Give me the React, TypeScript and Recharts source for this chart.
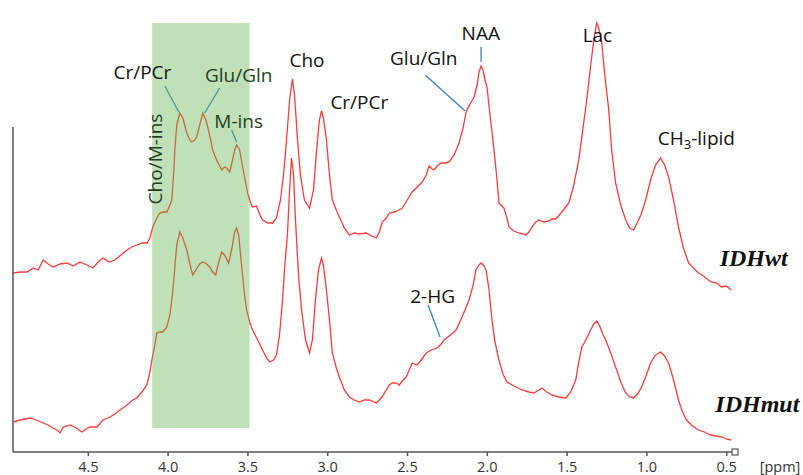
import React from "react";
import {
  LineChart,
  Line,
  XAxis,
  YAxis,
  ReferenceArea,
  ReferenceLine,
  ReferenceDot,
} from "recharts";

// chemical shift ticks (ppm), axis runs high -> low
const ppmTicks = [4.5, 4.0, 3.5, 3.0, 2.5, 2.0, 1.5, 1.0, 0.5];

// IDHwt spectrum (upper trace), signal in a.u.
const wtPpm = [
  4.971, 4.927, 4.883, 4.846, 4.814, 4.783, 4.752, 4.721, 4.677, 4.633, 4.596, 4.552, 4.508, 4.471,
  4.439, 4.408, 4.371, 4.333, 4.296, 4.258, 4.227, 4.196, 4.164, 4.133, 4.114, 4.096, 4.071, 4.052,
  4.027, 4.008, 3.989, 3.977, 3.964, 3.958, 3.946, 3.927, 3.908, 3.883, 3.864, 3.852, 3.833, 3.821,
  3.802, 3.783, 3.764, 3.752, 3.733, 3.721, 3.696, 3.664, 3.646, 3.633, 3.614, 3.596, 3.583, 3.571,
  3.552, 3.533, 3.514, 3.502, 3.483, 3.471, 3.446, 3.427, 3.408, 3.377, 3.346, 3.321, 3.296, 3.277,
  3.258, 3.239, 3.221, 3.208, 3.189, 3.171, 3.146, 3.114, 3.089, 3.077, 3.064, 3.052, 3.039, 3.027,
  3.008, 2.989, 2.971, 2.946, 2.927, 2.896, 2.864, 2.833, 2.802, 2.758, 2.727, 2.696, 2.677, 2.658,
  2.633, 2.614, 2.583, 2.552, 2.533, 2.502, 2.471, 2.439, 2.408, 2.383, 2.364, 2.346, 2.333, 2.314,
  2.289, 2.264, 2.239, 2.208, 2.177, 2.152, 2.133, 2.108, 2.083, 2.064, 2.052, 2.039, 2.027, 2.014,
  2.002, 1.983, 1.958, 1.939, 1.927, 1.896, 1.877, 1.864, 1.833, 1.802, 1.758, 1.739, 1.721, 1.696,
  1.677, 1.646, 1.614, 1.596, 1.571, 1.533, 1.489, 1.458, 1.427, 1.402, 1.377, 1.352, 1.333, 1.314,
  1.302, 1.283, 1.264, 1.239, 1.221, 1.196, 1.164, 1.133, 1.108, 1.083, 1.058, 1.033, 1.008, 0.977,
  0.946, 0.914, 0.889, 0.864, 0.833, 0.802, 0.771, 0.739, 0.708, 0.677, 0.646, 0.614, 0.596, 0.564,
  0.533, 0.502, 0.471,
];
const wtSignal = [
  179, 180, 180, 184, 182, 192, 188, 185, 188, 189, 186, 190, 187, 184,
  190, 194, 190, 192, 197, 202, 205, 207, 209, 209, 214, 225, 234, 239,
  240, 240, 247, 252, 282, 302, 327, 339, 334, 319, 312, 310, 312, 315,
  327, 339, 332, 325, 312, 302, 292, 282, 285, 284, 280, 292, 302, 307,
  302, 285, 269, 259, 249, 245, 246, 238, 232, 229, 229, 234, 252, 277,
  312, 352, 373, 357, 312, 277, 252, 244, 262, 287, 312, 332, 341, 334,
  312, 277, 252, 242, 235, 224, 217, 219, 218, 219, 216, 214, 220, 230,
  234, 239, 240, 242, 244, 252, 260, 265, 270, 277, 286, 283, 282, 286,
  289, 289, 290, 297, 309, 324, 340, 348, 355, 367, 380, 386, 382, 372,
  365, 337, 302, 272, 249, 244, 234, 225, 221, 219, 217, 220, 225, 230,
  232, 230, 231, 233, 233, 240, 249, 267, 292, 322, 352, 387, 412, 429,
  424, 409, 377, 342, 302, 269, 247, 232, 224, 222, 230, 239, 252, 272,
  287, 294, 287, 275, 252, 225, 204, 189, 184, 179, 176, 172, 170, 169,
  165, 166, 162,
];

// IDHmut spectrum (lower trace)
const mutPpm = [
  4.971, 4.927, 4.864, 4.827, 4.783, 4.752, 4.721, 4.696, 4.677, 4.658, 4.633, 4.614, 4.577, 4.539,
  4.514, 4.489, 4.446, 4.408, 4.364, 4.333, 4.302, 4.258, 4.221, 4.196, 4.164, 4.133, 4.114, 4.102,
  4.083, 4.071, 4.052, 4.033, 4.008, 3.989, 3.977, 3.964, 3.958, 3.946, 3.927, 3.908, 3.883, 3.864,
  3.846, 3.827, 3.802, 3.783, 3.758, 3.739, 3.721, 3.702, 3.683, 3.664, 3.646, 3.621, 3.602, 3.583,
  3.571, 3.558, 3.539, 3.521, 3.508, 3.489, 3.471, 3.439, 3.408, 3.383, 3.364, 3.339, 3.321, 3.302,
  3.283, 3.271, 3.252, 3.239, 3.227, 3.214, 3.202, 3.183, 3.164, 3.139, 3.114, 3.096, 3.077, 3.058,
  3.039, 3.027, 3.008, 2.989, 2.971, 2.946, 2.927, 2.896, 2.864, 2.833, 2.802, 2.771, 2.739, 2.696,
  2.664, 2.633, 2.614, 2.596, 2.571, 2.552, 2.533, 2.508, 2.489, 2.471, 2.439, 2.414, 2.383, 2.352,
  2.314, 2.289, 2.271, 2.239, 2.196, 2.158, 2.114, 2.089, 2.071, 2.052, 2.039, 2.021, 2.008, 1.989,
  1.971, 1.952, 1.927, 1.902, 1.877, 1.833, 1.783, 1.739, 1.708, 1.677, 1.658, 1.627, 1.596, 1.552,
  1.508, 1.477, 1.446, 1.427, 1.408, 1.389, 1.377, 1.352, 1.333, 1.314, 1.296, 1.277, 1.258, 1.227,
  1.196, 1.164, 1.133, 1.108, 1.083, 1.058, 1.033, 1.008, 0.977, 0.946, 0.914, 0.889, 0.864, 0.833,
  0.802, 0.777, 0.752, 0.714, 0.677, 0.639, 0.602, 0.564, 0.527, 0.502, 0.471,
];
const mutSignal = [
  30, 32, 34, 32, 29, 27, 24, 22, 19, 25, 26, 27, 24, 20,
  23, 25, 25, 32, 35, 38, 42, 47, 52, 54, 60, 67, 80, 92,
  107, 119, 120, 120, 125, 137, 152, 172, 185, 207, 220, 214, 202, 188,
  177, 182, 188, 190, 188, 185, 180, 177, 190, 200, 197, 189, 202, 220,
  224, 217, 185, 157, 142, 130, 122, 112, 102, 94, 90, 92, 97, 117,
  152, 182, 219, 262, 294, 277, 232, 177, 142, 112, 99, 112, 152, 182,
  194, 187, 162, 132, 99, 84, 75, 62, 55, 52, 50, 52, 52, 49,
  54, 62, 67, 69, 69, 67, 71, 75, 82, 89, 87, 92, 99, 102,
  104, 108, 112, 116, 122, 135, 152, 167, 182, 187, 189, 186, 182, 162,
  132, 110, 92, 78, 70, 66, 62, 60, 59, 62, 64, 60, 57, 55,
  54, 60, 72, 90, 105, 110, 114, 122, 128, 131, 126, 118, 112, 99,
  85, 70, 59, 55, 54, 58, 65, 75, 89, 97, 100, 96, 89, 72,
  52, 40, 32, 26, 22, 20, 17, 16, 15, 13, 12,
];

// peak annotations: text, ppm, signal
const notes = [
  { text: "Cr/PCr", ppm: 4.161, signal: 380 },
  { text: "Glu/Gln", ppm: 3.558, signal: 377, green: true },
  { text: "M-ins", ppm: 3.558, signal: 331, green: true },
  { text: "Cho/M-ins", ppm: 4.083, signal: 293, green: true, vertical: true },
  { text: "Cho", ppm: 3.13, signal: 392 },
  { text: "Cr/PCr", ppm: 2.802, signal: 350 },
  { text: "Glu/Gln", ppm: 2.398, signal: 394 },
  { text: "NAA", ppm: 2.041, signal: 418.7 },
  { text: "Lac", ppm: 1.31, signal: 417.5 },
  { text: "2-HG", ppm: 2.343, signal: 156.5 },
];

// leader lines: [ppm, signal] -> [ppm, signal]
const leaders = [
  [4.021, 366, 3.933, 340],
  [3.677, 364, 3.771, 339],
  [3.602, 322, 3.571, 310],
  [2.039, 405, 2.039, 390],
  [2.389, 377, 2.139, 341],
  [2.371, 147, 2.296, 115],
];

const wtData = wtPpm.map((p, i) => ({ ppm: p, signal: wtSignal[i] }));
const mutData = mutPpm.map((p, i) => ({ ppm: p, signal: mutSignal[i] }));

const SANS = "'Open Sans', 'Noto Sans', sans-serif";
const SERIF = "'Liberation Serif', 'DejaVu Serif', serif";
const X_DOMAIN: [number, number] = [0.448, 4.972];
const Y_DOMAIN: [number, number] = [0, 452];
const MARGIN = { top: 0, right: 68, bottom: 0, left: 13 };

const center = (viewBox: any) => ({
  x: viewBox.x + (viewBox.width || 0) / 2,
  y: viewBox.y + (viewBox.height || 0) / 2,
});

const Note = (props: any) => {
  const { viewBox, text, color, vertical } = props;
  const { x, y } = center(viewBox);
  return (
    <text
      x={x}
      y={y}
      textAnchor="middle"
      dominantBaseline="central"
      fill={color}
      fontFamily={SANS}
      fontSize={19}
      transform={vertical ? `rotate(-90 ${x} ${y})` : undefined}
    >
      {text}
    </text>
  );
};

const LipidNote = (props: any) => {
  const { x, y } = center(props.viewBox);
  return (
    <text x={x} y={y} textAnchor="middle" dominantBaseline="central" fill="#111" fontFamily={SANS} fontSize={19}>
      CH
      <tspan fontSize={13} dy={6}>
        3
      </tspan>
      <tspan dy={-6}>-lipid</tspan>
    </text>
  );
};

const GroupNote = (props: any) => {
  const { x, y } = center(props.viewBox);
  return (
    <text
      x={x}
      y={y}
      textAnchor="middle"
      dominantBaseline="central"
      fill="#111"
      fontFamily={SERIF}
      fontWeight="bold"
      fontStyle="italic"
      fontSize={24}
    >
      {props.text}
    </text>
  );
};

const UnitNote = (props: any) => {
  const { x, y } = center(props.viewBox);
  return (
    <text x={x} y={y} textAnchor="middle" dominantBaseline="central" fill="#333" fontFamily={SANS} fontSize={14.5}>
      [ppm]
    </text>
  );
};

export default function App() {
  return (
    <div style={{ position: "absolute", left: 0, top: 0, width: 803, height: 475, background: "#fff" }}>
      {/* spectra + axes */}
      <LineChart width={803} height={475} margin={MARGIN}>
        <XAxis
          dataKey="ppm"
          type="number"
          domain={X_DOMAIN}
          allowDataOverflow
          reversed
          ticks={ppmTicks}
          interval={0}
          tickFormatter={(v: number) => v.toFixed(1)}
          height={23}
          stroke="#555"
          strokeWidth={1.5}
          tickSize={4}
          tickMargin={6}
          tick={{ fill: "#333", fontSize: 14.5, fontFamily: SANS }}
        />
        <YAxis type="number" domain={Y_DOMAIN} allowDataOverflow hide />
        <Line
          data={wtData}
          dataKey="signal"
          stroke="#ff3b3b"
          strokeWidth={1.3}
          dot={false}
          type="linear"
          isAnimationActive={false}
        />
        <Line
          data={mutData}
          dataKey="signal"
          stroke="#ff3b3b"
          strokeWidth={1.3}
          dot={false}
          type="linear"
          isAnimationActive={false}
        />
        {leaders.map((l, i) => (
          <ReferenceLine
            key={"ld" + i}
            segment={[
              { x: l[0], y: l[1] },
              { x: l[2], y: l[3] },
            ]}
            stroke="#3a7fc8"
            strokeWidth={1.3}
            ifOverflow="visible"
          />
        ))}
        <ReferenceLine
          segment={[
            { x: 4.972, y: 0 },
            { x: 4.972, y: 325 },
          ]}
          stroke="#555"
          strokeWidth={1.5}
          ifOverflow="visible"
        />
        <ReferenceDot
          x={0.448}
          y={0}
          r={3}
          ifOverflow="visible"
          shape={(p: any) => (
            <rect x={p.cx - 3} y={p.cy - 3} width={6} height={6} fill="#fff" stroke="#555" strokeWidth={1.2} />
          )}
        />
      </LineChart>

      {/* translucent highlight + annotations on top */}
      <div style={{ position: "absolute", left: 0, top: 0, pointerEvents: "none" }}>
        <LineChart width={803} height={475} margin={{ ...MARGIN, bottom: 23 }}>
          <XAxis dataKey="ppm" type="number" domain={X_DOMAIN} allowDataOverflow reversed hide />
          <YAxis type="number" domain={Y_DOMAIN} allowDataOverflow hide />
          <Line
            data={wtData}
            dataKey="signal"
            stroke="none"
            dot={false}
            isAnimationActive={false}
          />
          <ReferenceArea
            x1={4.1}
            x2={3.49}
            y1={24}
            y2={429}
            fill="#62b24e"
            fillOpacity={0.4}
            stroke="none"
            ifOverflow="visible"
          />
          {notes.map((n, i) => (
            <ReferenceDot
              key={"nt" + i}
              x={n.ppm}
              y={n.signal}
              r={0}
              fill="none"
              stroke="none"
              ifOverflow="visible"
              label={<Note text={n.text} color={n.green ? "#24401f" : "#111"} vertical={n.vertical} />}
            />
          ))}
          <ReferenceDot x={0.69} y={314} r={0} fill="none" stroke="none" ifOverflow="visible" label={<LipidNote />} />
          <ReferenceDot x={0.331} y={194} r={0} fill="none" stroke="none" ifOverflow="visible" label={<GroupNote text="IDHwt" />} />
          <ReferenceDot x={0.308} y={48} r={0} fill="none" stroke="none" ifOverflow="visible" label={<GroupNote text="IDHmut" />} />
          <ReferenceDot x={0.166} y={-14} r={0} fill="none" stroke="none" ifOverflow="visible" label={<UnitNote />} />
        </LineChart>
      </div>
    </div>
  );
}
